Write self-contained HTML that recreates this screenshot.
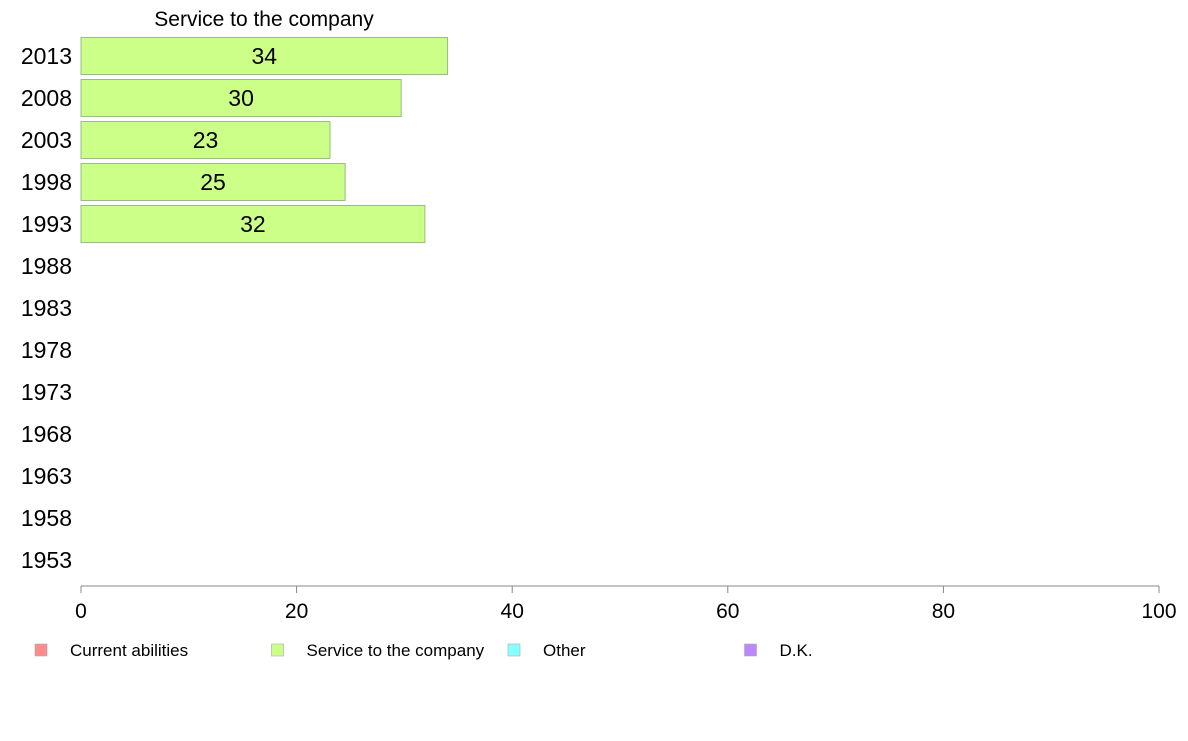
<!DOCTYPE html>
<html><head><meta charset="utf-8"><style>
html,body{margin:0;padding:0;background:#fff;}
svg text{font-family:"Liberation Sans",Arial,sans-serif;}
</style></head><body>
<svg id="chart" width="1188" height="736" xmlns="http://www.w3.org/2000/svg">
<text x="264" y="26" font-size="21" text-anchor="middle">Service to the company</text>
<g id="ylabels"></g>
<g id="bars"></g>
<g id="xaxis"></g>
<g id="legend"></g>
</svg>
<script>
const categories = ["2013","2008","2003","1998","1993","1988","1983","1978","1973","1968","1963","1958","1953"];
const values = [34, 29.7, 23.1, 24.5, 31.9, null, null, null, null, null, null, null, null];
const xTicks = [0, 20, 40, 60, 80, 100];
const legendLabels = ["Current abilities", "Service to the company", "Other", "D.K."];
const legendColors = ["#ff8c8c", "#ccff88", "#88ffff", "#bb88ff"];

const NS = "http://www.w3.org/2000/svg";
const X0 = 81, X1 = 1159, YTOP = 56, YBOT = 560, AXY = 586;
function xScale(v){ return X0 + (v/100)*(X1-X0); }
function yScale(i){ return YTOP + i*(YBOT-YTOP)/(categories.length-1); }
function mk(tag, attrs, parent){ const e=document.createElementNS(NS,tag); for(const k in attrs) e.setAttribute(k,attrs[k]); parent.appendChild(e); return e; }

const yl = document.getElementById('ylabels');
const bars = document.getElementById('bars');
categories.forEach((c,i)=>{
  const t = mk('text',{x:72,y:yScale(i)+8,'font-size':23,'text-anchor':'end'},yl);
  
  
  t.textContent = c;
  const v = values[i];
  if(v!=null){
    const h = 37;
    const r = mk('rect',{x:X0,y:yScale(i)-h/2,width:xScale(v)-X0,height:h,fill:'#ccff88',stroke:'#99bb88','stroke-width':1},bars);
    
    
    const lt = mk('text',{x:(X0+xScale(v))/2,y:yScale(i)+8,'font-size':23,'text-anchor':'middle'},bars);
    
    
    lt.textContent = Math.round(v);
  }
});

const xa = document.getElementById('xaxis');
mk('line',{x1:X0,y1:AXY,x2:X1,y2:AXY,stroke:'#888','stroke-width':1},xa);
xTicks.forEach(v=>{
  mk('line',{x1:xScale(v),y1:AXY,x2:xScale(v),y2:AXY+7,stroke:'#888','stroke-width':1},xa);
  const t = mk('text',{x:xScale(v),y:AXY+32,'font-size':21,'text-anchor':'middle'},xa);
  
  
  t.textContent = v;
});

const lg = document.getElementById('legend');
legendLabels.forEach((l,i)=>{
  const x = 41 + i*236.5;
  const g = mk('g',{},lg);
  
  
  mk('rect',{x:x-6,y:644,width:12,height:12,fill:legendColors[i],stroke:'#aaa','stroke-width':0.6},g);
  const t = mk('text',{x:x+29,y:656,'font-size':17},g);
  t.textContent = l;
});
</script>
</body></html>
